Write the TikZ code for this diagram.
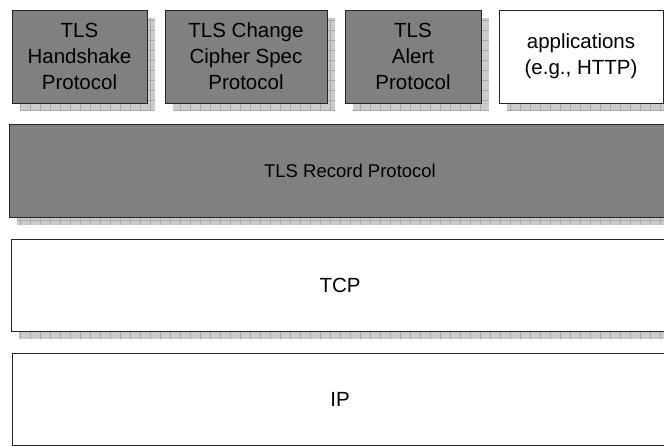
\documentclass[tikz,border=0pt]{standalone}
\usepackage{fontspec}
\setmainfont{Liberation Sans}
\usetikzlibrary{calc}
\usetikzlibrary{backgrounds}

\begin{document}
\begin{tikzpicture}[x=1pt, y=-1pt,
    layer/.style={draw=black!85, line width=0.9pt, inner sep=0pt, align=center,
      font=\fontsize{20.5}{26}\selectfont},
    dark/.style={layer, fill=black!50},
    light/.style={layer, fill=white},
    shadowfill/.style={fill=black!20},
    shadowgrid/.style={draw=black!34, line width=0.25pt, xstep=10pt, ystep=10pt}]
      \useasboundingbox (0,0) rectangle (664,446);

      % protocols on top of the record layer
      \node[dark, minimum width=135pt, minimum height=93pt] (hs) at (79.5,56.5)
        {TLS\\Handshake\\Protocol};
      \node[dark, minimum width=162pt, minimum height=93pt] (ccs) at (246,56.5)
        {TLS Change\\Cipher Spec\\Protocol};
      \node[dark, minimum width=136pt, minimum height=93pt] (al) at (413,56.5)
        {TLS\\Alert\\Protocol};
      \node[light, minimum width=164pt, minimum height=93pt] (app) at (581,56.5)
        {applications\\(e.g., HTTP)};

      % lower layers
      \node[dark, minimum width=682pt, minimum height=93pt,
        font=\fontsize{18.5}{24}\selectfont] (rec) at (350,170.5)
        {TLS Record Protocol};
      \node[light, minimum width=658pt, minimum height=92pt] (tcp) at (340,285)
        {TCP};
      \node[light, minimum width=656pt, minimum height=92pt] (ip) at (340,399)
        {IP};

      % hatched shadows
      \begin{scope}[on background layer]
        \foreach \n in {hs,ccs,al,app,rec,tcp}{
          \fill[shadowfill] ($(\n.north west)+(8,8)$) rectangle ($(\n.south east)+(8,8)$);
          \begin{scope}
            \clip ($(\n.north west)+(8,8)$) rectangle ($(\n.south east)+(8,8)$);
            \draw[shadowgrid] ($(\n.north west)+(8,8)$) grid ($(\n.south east)+(8,8)$);
          \end{scope}
        }
      \end{scope}
    \end{tikzpicture}
\end{document}
